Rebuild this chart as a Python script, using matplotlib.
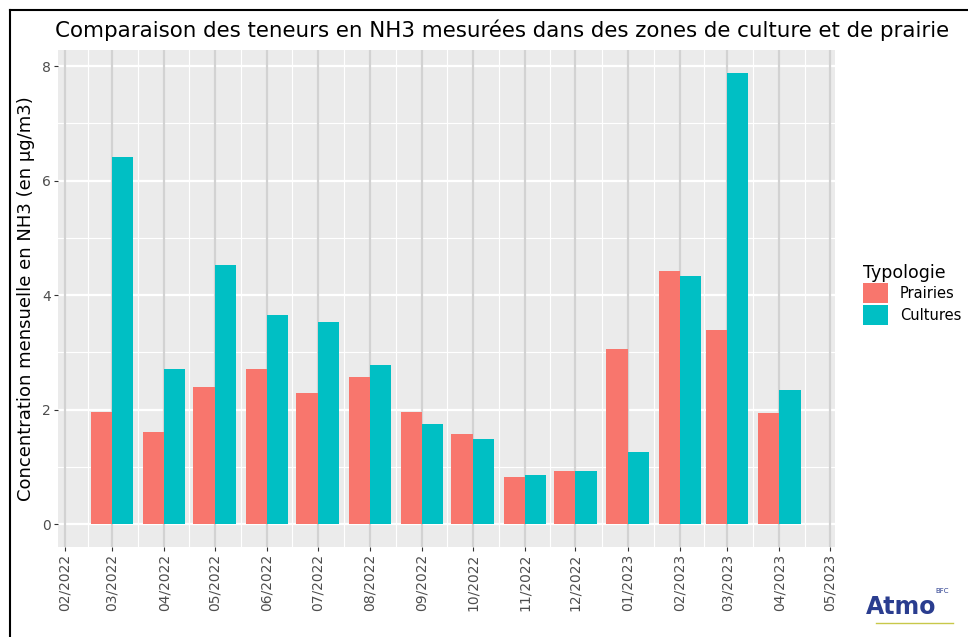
import numpy as np
import pandas as pd
import matplotlib
matplotlib.use("Agg")
import matplotlib.pyplot as plt
import matplotlib.dates as mdates
from matplotlib.lines import Line2D
from matplotlib.patches import Patch

mois = ["2022-03", "2022-04", "2022-05", "2022-06", "2022-07", "2022-08", "2022-09",
        "2022-10", "2022-11", "2022-12", "2023-01", "2023-02", "2023-03", "2023-04"]
prairies = [1.96, 1.61, 2.39, 2.71, 2.29, 2.57, 1.96, 1.57, 0.82, 0.93, 3.06, 4.42, 3.39, 1.94]
cultures = [6.41, 2.71, 4.52, 3.65, 3.53, 2.78, 1.75, 1.48, 0.86, 0.93, 1.26, 4.33, 7.88, 2.34]
ticks_mois = pd.date_range("2022-02-01", "2023-05-01", freq="MS")

dates = mdates.date2num(pd.to_datetime(mois))
largeur = 12.6  # jours

fig = plt.figure(figsize=(9.68, 6.37), dpi=100)
ax = fig.add_axes([0.0599, 0.1413, 0.8027, 0.7802])
ax.set_facecolor("#ebebeb")

# grille façon ggplot
tk = mdates.date2num(ticks_mois)
mineurs = (tk[:-1] + tk[1:]) / 2
for x in mineurs:
    ax.axvline(x, color="white", lw=0.8, zorder=0)
for y in [1, 3, 5, 7]:
    ax.axhline(y, color="white", lw=0.8, zorder=0)
for y in [0, 2, 4, 6, 8]:
    ax.axhline(y, color="white", lw=1.6, zorder=0)
for x in tk:
    ax.axvline(x, color="#d2d2d2", lw=1.6, zorder=0.5)

ax.bar(dates - largeur / 2, prairies, width=largeur, color="#f8766d", zorder=2)
ax.bar(dates + largeur / 2, cultures, width=largeur, color="#00bfc4", zorder=2)

ax.set_xlim(mdates.date2num(pd.Timestamp("2022-01-28")), mdates.date2num(pd.Timestamp("2023-05-04")))
ax.set_ylim(-0.4, 8.28)
ax.set_xticks(tk)
ax.set_xticklabels([d.strftime("%m/%Y") for d in ticks_mois], rotation=90)
ax.set_yticks([0, 2, 4, 6, 8])
ax.tick_params(colors="#333333", labelcolor="#4d4d4d", labelsize=10, length=3, width=0.8, pad=2)
for s in ax.spines.values():
    s.set_visible(False)

ax.set_ylabel("Concentration mensuelle en NH3 (en µg/m3)", fontsize=13, color="black", labelpad=5)
fig.text(0.057, 0.953, "Comparaison des teneurs en NH3 mesurées dans des zones de culture et de prairie",
         fontsize=15.4, ha="left", va="center")

handles = [Patch(facecolor="#f8766d", edgecolor="none", label="Prairies"),
           Patch(facecolor="#00bfc4", edgecolor="none", label="Cultures")]
leg = fig.legend(handles=handles, title="Typologie", loc="upper left", bbox_to_anchor=(0.885, 0.595),
                 frameon=False, fontsize=10.5, title_fontsize=12.5, handlelength=1.75, handleheight=1.75,
                 handletextpad=0.8, labelspacing=0.1, borderaxespad=0)
leg._legend_box.align = "left"

# logo
fig.text(0.895, 0.028, "Atmo", fontsize=17, fontweight="bold", color="#2a3d8f", ha="left", va="bottom")
fig.text(0.966, 0.068, "BFC", fontsize=5, color="#2a3d8f", ha="left", va="bottom")
fig.add_artist(Line2D([0.905, 0.985], [0.022, 0.022], color="#c8c84a", lw=1))

# cadre noir
fig.add_artist(Line2D([0.0105, 0.0105], [0.0, 0.984], color="black", lw=1.5))
fig.add_artist(Line2D([0.0105, 1.0], [0.984, 0.984], color="black", lw=1.5))

fig.savefig("out.png", dpi=100)
